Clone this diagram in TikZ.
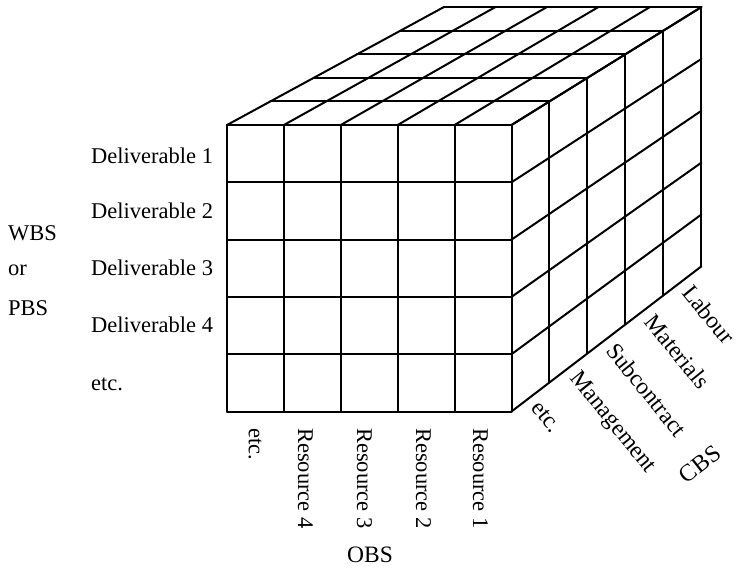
\documentclass[tikz,border=0pt]{standalone}
\usepackage{fontspec}
\setmainfont{Liberation Serif}
\usetikzlibrary{calc}
\newcommand\cubept[3]{%
  \pgfmathsetmacro\cpx{2511+(1-0.019*#3)*(227+56.9*#1-2511)}%
  \pgfmathsetmacro\cpy{-1117+(1-0.019*#3)*(125+57.3*#2+1117)}%
  \coordinate (p-#1-#2-#3) at (\cpx,\cpy);}
\tikzset{
  gridline/.style={line width=2pt, line join=round, line cap=round},
  lbl/.style={inner sep=0pt, font=\fontsize{22.5}{26}\selectfont},
  cbslbl/.style={inner sep=0pt, font=\fontsize{23.5}{26}\selectfont, anchor=west, rotate=-51},
  obslbl/.style={lbl, anchor=west, rotate=-90},
}
\begin{document}
\begin{tikzpicture}[x=1pt, y=-1pt]
\useasboundingbox (0,0) rectangle (736,567);
\foreach \i in {0,...,5}{\foreach \j in {0,...,5}{\foreach \k in {0,...,5}{\cubept{\i}{\j}{\k}}}}
% front face
\foreach \i in {0,...,5} \draw[gridline] (p-\i-0-0) -- (p-\i-5-0);
\foreach \j in {0,...,5} \draw[gridline] (p-0-\j-0) -- (p-5-\j-0);
% top face
\foreach \i in {0,...,5} \draw[gridline] (p-\i-0-0) -- (p-\i-0-5);
\foreach \k in {1,...,5} \draw[gridline] (p-0-0-\k) -- (p-5-0-\k);
% right face
\foreach \j in {0,...,5} \draw[gridline] (p-5-\j-0) -- (p-5-\j-5);
\foreach \k in {1,...,5} \draw[gridline] (p-5-0-\k) -- (p-5-5-\k);
% left labels
\node[lbl, anchor=base west] (d1) at (91,164) {Deliverable 1};
\node[lbl, anchor=base west] (d2) at (91,218) {Deliverable 2};
\node[lbl, anchor=base west] (d3) at (91,275) {Deliverable 3};
\node[lbl, anchor=base west] (d4) at (91,332) {Deliverable 4};
\node[lbl, anchor=base west] (d5) at (91,390) {etc.};
\node[lbl, anchor=base west] (wbs) at (8,240) {WBS};
\node[lbl, anchor=base west] (or) at (8,275) {or};
\node[lbl, anchor=base west] (pbs) at (8,315) {PBS};
% bottom labels
\node[obslbl] (r5) at (255,428) {etc.};
\node[obslbl] (r4) at (305.5,428) {Resource 4};
\node[obslbl] (r3) at (364.5,428) {Resource 3};
\node[obslbl] (r2) at (423.5,428) {Resource 2};
\node[obslbl] (r1) at (480.5,428) {Resource 1};
\node[lbl, anchor=base, font=\fontsize{23.5}{26}\selectfont] (obs) at (370,562) {OBS};
% right labels
\node[cbslbl] (c5) at ($(p-5-5-0)!0.5!(p-5-5-1)+(5,7)$) {etc.};
\node[cbslbl] (c4) at ($(p-5-5-1)!0.5!(p-5-5-2)+(5,7)$) {Management};
\node[cbslbl] (c3) at ($(p-5-5-2)!0.5!(p-5-5-3)+(5,7)$) {Subcontract};
\node[cbslbl] (c2) at ($(p-5-5-3)!0.5!(p-5-5-4)+(5,7)$) {Materials};
\node[cbslbl] (c1) at ($(p-5-5-4)!0.5!(p-5-5-5)+(5,7)$) {Labour};
\node[lbl, rotate=38, font=\fontsize{24}{26}\selectfont] (cbs) at (700,464) {CBS};
\end{tikzpicture}
\end{document}
